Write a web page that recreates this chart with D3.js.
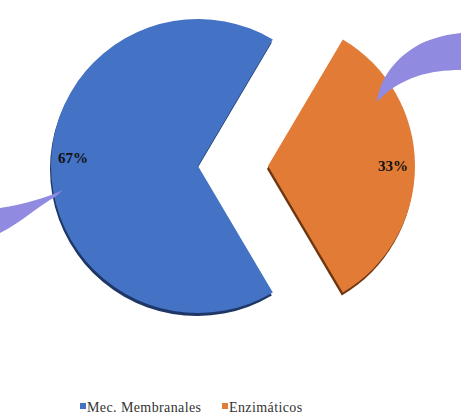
<!DOCTYPE html>
<html>
<head>
<meta charset="utf-8">
<script src="https://cdn.jsdelivr.net/npm/d3@7/dist/d3.min.js"></script>
<style>
  html, body { margin: 0; padding: 0; background: #fff; }
  svg { display: block; }
  text { font-family: "Liberation Serif", "DejaVu Serif", serif; }
</style>
</head>
<body>
<svg id="chart" width="461" height="418"></svg>
<script>
// Share of mechanisms (percent)
const categories = ["Mec. Membranales", "Enzimáticos"];
const values = [67, 33];
const labels = ["67%", "33%"];
const colors = ["#4472c4", "#e27b35"];
const edgeColors = ["#1e3766", "#6e3610"];

const svg = d3.select("#chart");
const cx = 233, cy = 166, R = 147, explode = 35;

// Orange slice centred on the right, blue slice on the left
const start = Math.PI / 2 + 2 * Math.PI * (values[1] / 2) / d3.sum(values);
const pie = d3.pie().sort(null).startAngle(start).endAngle(start + 2 * Math.PI);
const pieData = pie(values);

const arc = d3.arc().innerRadius(0).outerRadius(R);
const labelArc = d3.arc().innerRadius(R * 0.85).outerRadius(R * 0.85);

function offset(d) {
  const a = (d.startAngle + d.endAngle) / 2;
  return [Math.sin(a) * explode, -Math.cos(a) * explode];
}

const g = svg.append("g").attr("transform", `translate(${cx},${cy})`);

const slices = g.selectAll("g.slice")
  .data(pieData)
  .join("g")
  .attr("class", "slice")
  .attr("transform", d => { const [dx, dy] = offset(d); return `translate(${dx},${dy})`; });

// extruded edge beneath each slice
slices.append("path")
  .attr("d", arc)
  .attr("transform", "translate(-1,3)")
  .attr("fill", (d, i) => edgeColors[i]);

slices.append("path")
  .attr("d", arc)
  .attr("fill", (d, i) => colors[i]);

// curved leader swooshes
const swoosh = "#908ae0";
svg.append("path")
  .attr("d", "M63,190 C45,198 25,204 0,208 L0,233 C22,222 38,206 55,197 Z")
  .attr("fill", swoosh);
svg.append("path")
  .attr("d", "M377,102 C380,78 395,58 420,44 C435,37 450,34 461,33 L461,70 C445,70 430,72 418,76 C400,82 388,90 377,102 Z")
  .attr("fill", swoosh);

// percentage labels
slices.append("text")
  .attr("transform", d => { const [x, y] = labelArc.centroid(d); return `translate(${x},${y})`; })
  .attr("dy", (d, i) => i === 0 ? "-0.2em" : "0.3em")
  .attr("text-anchor", "middle")
  .attr("font-weight", "bold")
  .attr("font-size", 15)
  .attr("fill", "#111")
  .text((d, i) => labels[i]);

// legend
const legendX = [80, 222];
const legend = svg.append("g");
categories.forEach((c, i) => {
  legend.append("rect")
    .attr("x", legendX[i]).attr("y", 403)
    .attr("width", 6).attr("height", 6)
    .attr("fill", colors[i]);
  legend.append("text")
    .attr("x", legendX[i] + 7).attr("y", 412)
    .attr("font-size", 14)
    .attr("letter-spacing", 0.4)
    .attr("fill", "#333")
    .text(c);
});
</script>
</body>
</html>
